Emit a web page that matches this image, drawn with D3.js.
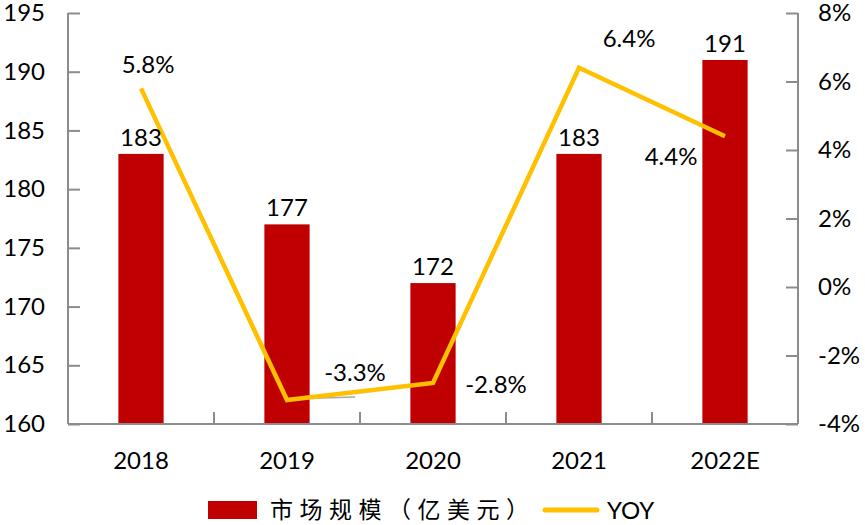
<!DOCTYPE html>
<html>
<head>
<meta charset="utf-8">
<script src="https://cdn.jsdelivr.net/npm/d3@7"></script>
<style>
  html, body { margin: 0; padding: 0; background: #fff; }
  svg { display: block; font-family: "Lato", "Liberation Sans", sans-serif; }
</style>
</head>
<body>
<svg id="chart" width="865" height="525"></svg>
<script>
// chart values
const years = ["2018", "2019", "2020", "2021", "2022E"];
const marketSize = [183, 177, 172, 183, 191];      // 亿美元
const yoy = [0.058, -0.033, -0.028, 0.064, 0.044];
const yoyLabels = ["5.8%", "-3.3%", "-2.8%", "6.4%", "4.4%"];
const leftTicks = [160, 165, 170, 175, 180, 185, 190, 195];
const rightTicks = [-0.04, -0.02, 0, 0.02, 0.04, 0.06, 0.08];

// where each yoy label sits relative to its point (dx, dy)
const yoyLabelOffset = [[7, -15], [68, -19], [63, 10], [50, -21], [-54, 29]];

const svg = d3.select("#chart");
const plotL = 68, plotR = 798, plotT = 13, plotB = 424;
const axisColor = "#8c8c8c";
const barColor = "#C00000";
const lineColor = "#FFC000";

const x = d3.scaleBand().domain(years).range([plotL, plotR]);
const yL = d3.scaleLinear().domain([160, 195]).range([plotB, plotT]);
const yR = d3.scaleLinear().domain([-0.04, 0.08]).range([plotB, plotT]);
const barW = x.bandwidth() * 0.31;
const cx = (d) => x(d) + x.bandwidth() / 2;
const pct = (d) => Math.round(d * 100) + "%";   // plain hyphen minus like the source

// bars
svg.append("g").selectAll("rect")
    .data(years)
    .enter().append("rect")
        .attr("x", (d) => cx(d) - barW / 2)
        .attr("y", (d, i) => yL(marketSize[i]))
        .attr("width", barW)
        .attr("height", (d, i) => plotB - yL(marketSize[i]))
        .attr("fill", barColor);

// axes
const leftAxis = d3.axisLeft(yL).tickValues(leftTicks).tickSize(-12).tickPadding(23).tickFormat(d3.format("d"));
const gl = svg.append("g").attr("transform", `translate(${plotL},0)`).call(leftAxis);

const rightAxis = d3.axisRight(yR).tickValues(rightTicks).tickSize(-12).tickPadding(32).tickFormat(pct);
const gr = svg.append("g").attr("transform", `translate(${plotR},0)`).call(rightAxis);

const bottomAxis = d3.axisBottom(x).tickSize(0).tickPadding(28);
const gb = svg.append("g").attr("transform", `translate(0,${plotB})`).call(bottomAxis);

[gl, gr, gb].forEach((g) => {
    g.select(".domain").attr("stroke", axisColor).attr("stroke-width", 2);
    g.selectAll(".tick line").attr("stroke", axisColor).attr("stroke-width", 2);
    g.selectAll("text").attr("fill", "#000").style("font-size", "24px").style("font-family", "Lato, sans-serif");
});
gl.select(".domain").attr("d", `M0,${plotT}V${plotB}`);
gr.select(".domain").attr("d", `M0,${plotT}V${plotB}`);
gr.selectAll("text").attr("text-anchor", "start").attr("x", 20);
gb.select(".domain").attr("d", `M${plotL},0H${plotR}`);

// category separator ticks
svg.append("g").selectAll("line")
    .data(years.slice(1))
    .enter().append("line")
        .attr("x1", (d) => x(d)).attr("x2", (d) => x(d))
        .attr("y1", plotB).attr("y2", plotB - 12)
        .attr("stroke", axisColor).attr("stroke-width", 2);

// leader line for 2019 label
svg.append("line")
    .attr("x1", cx("2019")).attr("y1", yR(yoy[1]) - 1)
    .attr("x2", cx("2019") + 68).attr("y2", yR(yoy[1]) - 3)
    .attr("stroke", "#a6a6a6").attr("stroke-width", 1.5);

// yoy line
const line = d3.line()
    .x((d, i) => cx(years[i]))
    .y((d) => yR(d));
svg.append("path")
    .datum(yoy)
    .attr("d", line)
    .attr("fill", "none")
    .attr("stroke", lineColor)
    .attr("stroke-width", 4.5)
    .attr("stroke-linejoin", "miter");

// bar value labels
svg.append("g").selectAll("text")
    .data(years)
    .enter().append("text")
        .attr("x", (d) => cx(d))
        .attr("y", (d, i) => yL(marketSize[i]) - 8)
        .attr("text-anchor", "middle")
        .style("font-size", "24px")
        .text((d, i) => marketSize[i]);

// yoy labels
svg.append("g").selectAll("text")
    .data(years)
    .enter().append("text")
        .attr("x", (d, i) => cx(d) + yoyLabelOffset[i][0])
        .attr("y", (d, i) => yR(yoy[i]) + yoyLabelOffset[i][1])
        .attr("text-anchor", "middle")
        .style("font-size", "24px")
        .text((d, i) => yoyLabels[i]);

// legend
const lg = svg.append("g");
lg.append("rect").attr("x", 208).attr("y", 501).attr("width", 49).attr("height", 18).attr("fill", barColor);
lg.append("text").attr("x", 270).attr("y", 518)
    .style("font-family", "'Noto Sans CJK SC', sans-serif")
    .style("font-size", "23px")
    .style("letter-spacing", "6.5px")
    .text("市场规模（亿美元）");
lg.append("line").attr("x1", 545).attr("x2", 597).attr("y1", 510).attr("y2", 510)
    .attr("stroke", lineColor).attr("stroke-width", 5).attr("stroke-linecap", "round");
lg.append("text").attr("x", 607).attr("y", 519).style("font-size", "24px").text("YOY");
</script>
</body>
</html>
